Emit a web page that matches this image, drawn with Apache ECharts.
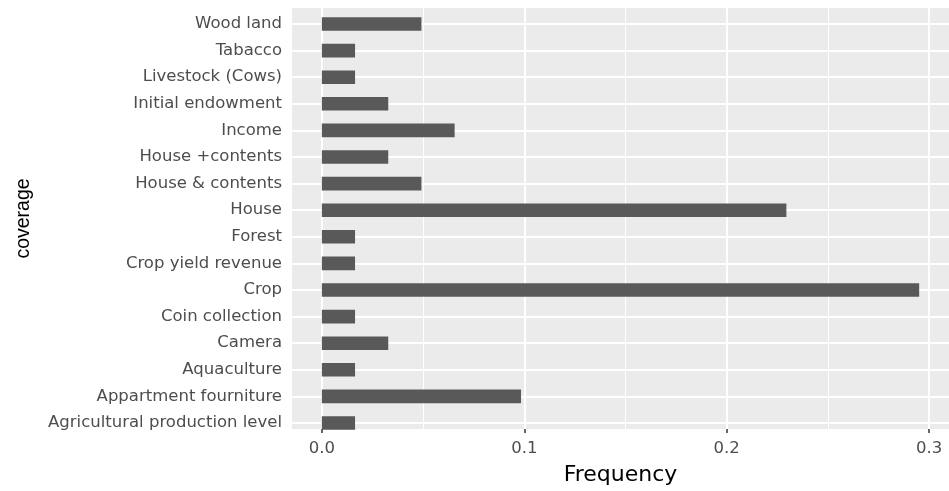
<!DOCTYPE html>
<html>
<head>
<meta charset="utf-8">
<script src="https://cdn.jsdelivr.net/npm/echarts@6/dist/echarts.min.js"></script>
<style>html,body{margin:0;padding:0;background:#fff}#c{width:949px;height:491px}</style>
</head>
<body>
<div id="c"></div>
<script>
// categories listed bottom to top
var categories = [
  "Agricultural production level",
  "Appartment fourniture",
  "Aquaculture",
  "Camera",
  "Coin collection",
  "Crop",
  "Crop yield revenue",
  "Forest",
  "House",
  "House & contents",
  "House +contents",
  "Income",
  "Initial endowment",
  "Livestock (Cows)",
  "Tabacco",
  "Wood land"
];
var frequency = [0.0164, 0.0984, 0.0164, 0.0328, 0.0164, 0.2951, 0.0164, 0.0164,
                 0.2295, 0.0492, 0.0328, 0.0656, 0.0328, 0.0164, 0.0164, 0.0492];
var majorTicks = [0, 0.1, 0.2, 0.3];
var minorTicks = [0.05, 0.15, 0.25];

var XMIN = -0.01475, XMAX = 0.30984;
var labelFont = "DejaVu Sans";
var chart = echarts.init(document.getElementById('c'), null, {renderer: 'canvas'});
chart.setOption({
  animation: false,
  backgroundColor: '#ffffff',
  grid: [
    {left: 292, width: 658, top: 10.7, bottom: 54.7, containLabel: false},
    {left: 292, width: 658, top: 8, height: 431, show: true, backgroundColor: '#EBEBEB', borderWidth: 0, containLabel: false}
  ],
  xAxis: [
    {gridIndex: 0, type: 'value', min: XMIN, max: XMAX, show: false},
    {gridIndex: 1, type: 'value', min: XMIN, max: XMAX, position: 'bottom',
     axisLine: {show: false},
     axisTick: {show: true, customValues: majorTicks, length: 4, lineStyle: {color: '#333333', width: 1.5}},
     axisLabel: {customValues: majorTicks, margin: 11, color: '#4D4D4D', fontSize: 16.5, fontFamily: labelFont,
                 formatter: function (v) { return v.toFixed(1); }},
     splitLine: {show: false},
     name: 'Frequency', nameLocation: 'middle', nameGap: 35,
     nameTextStyle: {color: '#000000', fontSize: 22, fontFamily: labelFont}}
  ],
  yAxis: [
    {gridIndex: 0, type: 'category', data: categories,
     axisLine: {show: false},
     axisTick: {show: true, alignWithLabel: true, length: 5, lineStyle: {color: '#333333', width: 1.5}},
     axisLabel: {margin: 10, color: '#4D4D4D', fontSize: 16.5, fontFamily: labelFont, interval: 0},
     splitLine: {show: false},
     name: 'coverage', nameLocation: 'middle', nameRotate: 90, nameGap: 258,
     nameTextStyle: {color: '#000000', fontSize: 19.5, fontFamily: 'Liberation Sans', padding: [0, 0, 0, 10]}},
    {gridIndex: 1, type: 'value', min: 0, max: 1, show: false}
  ],
  series: [
    {
      type: 'line', xAxisIndex: 1, yAxisIndex: 1, data: [], silent: true,
      markLine: {
        z: 1, silent: true, symbol: 'none', label: {show: false}, animation: false,
        emphasis: {disabled: true},
        data: majorTicks.map(function (v) { return {xAxis: v, lineStyle: {color: '#ffffff', width: 2, type: 'solid'}}; })
          .concat(minorTicks.map(function (v) { return {xAxis: v, lineStyle: {color: '#ffffff', width: 1, type: 'solid'}}; }))
      }
    },
    {
      type: 'line', xAxisIndex: 0, yAxisIndex: 0, data: [], silent: true,
      markLine: {
        z: 1, silent: true, symbol: 'none', label: {show: false}, animation: false,
        emphasis: {disabled: true},
        data: categories.map(function (c, i) { return {yAxis: i, lineStyle: {color: '#ffffff', width: 2, type: 'solid'}}; })
      }
    },
    {
      type: 'bar', xAxisIndex: 0, yAxisIndex: 0, data: frequency, barWidth: '51%', z: 3,
      itemStyle: {color: '#595959'}, silent: true
    }
  ]
});
</script>
</body>
</html>
